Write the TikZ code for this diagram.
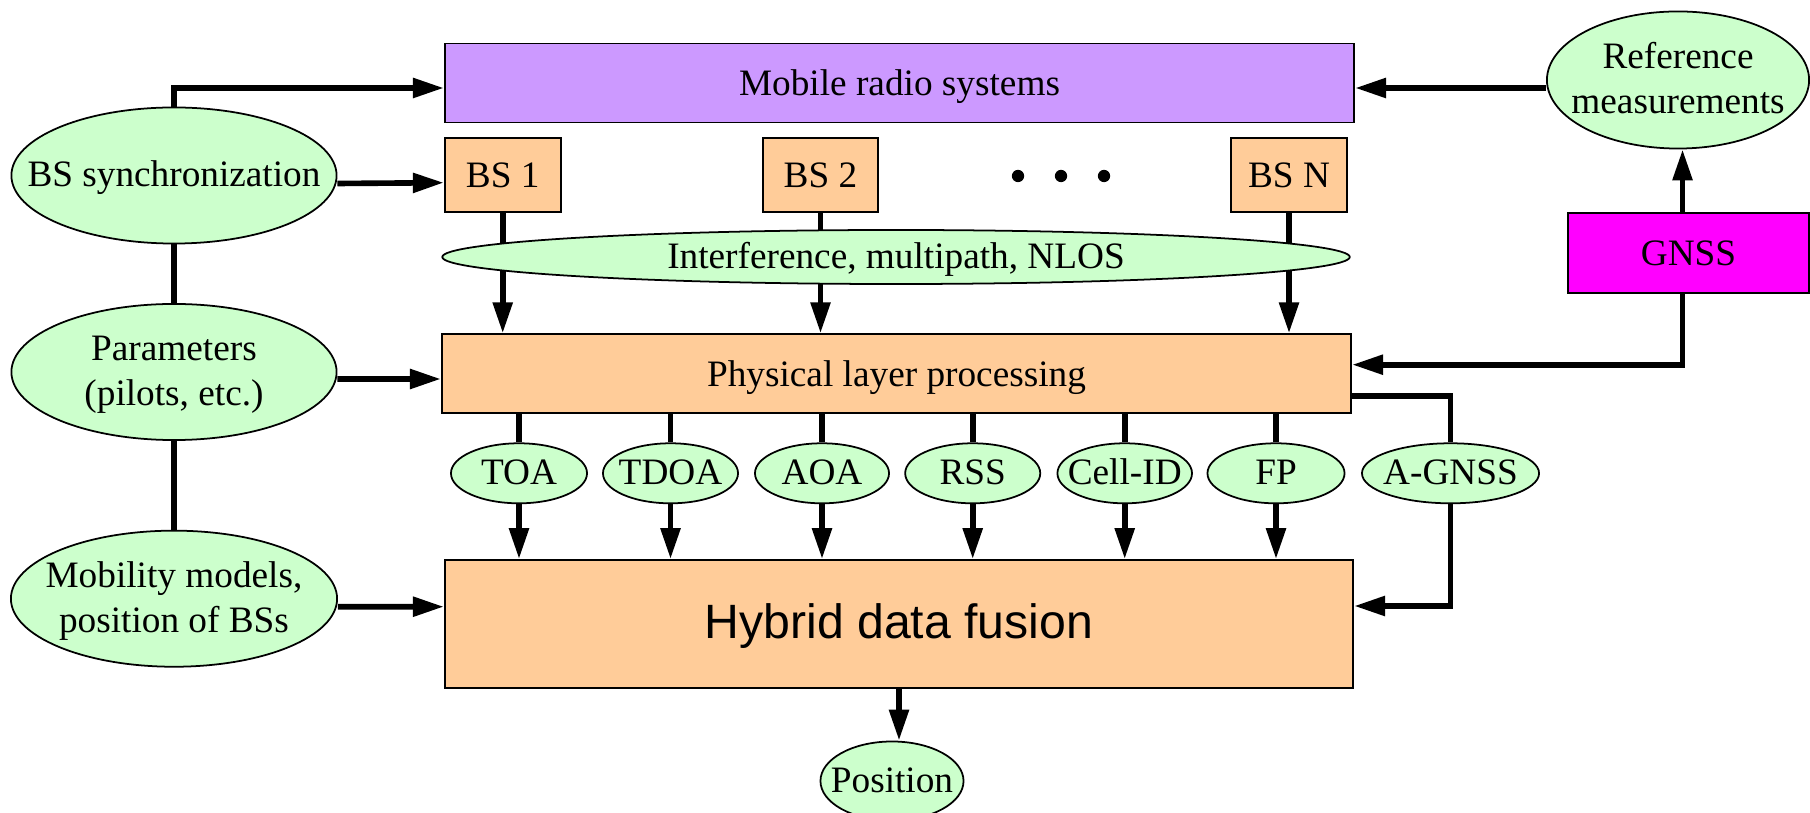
\documentclass[tikz,border=0pt]{standalone}
\usepackage{fontspec}
\setmainfont{Liberation Serif}
\setsansfont{Liberation Sans}
\usepackage{xcolor}
\usepackage{tikz}
\usetikzlibrary{calc, shapes.geometric, arrows.meta}

\definecolor{lgreen}{HTML}{CCFFCC}
\definecolor{lorange}{HTML}{FFCC99}
\definecolor{lpurple}{HTML}{CC99FF}
\definecolor{lmagenta}{HTML}{FF00FF}

% text of an oval, of no size of its own
\newcommand{\ovaltext}[1]{\hbox to 0pt{\hss\lower1.3pt\vbox to 0pt{\vss\hbox{\begin{tabular}{@{}c@{}}#1\end{tabular}}\vss}\hss}}

\begin{document}
\begin{tikzpicture}[x=0.01cm, y=-0.01cm,
    font=\fontsize{10.6}{12.6}\selectfont,
    box/.style={rectangle, draw, line width=0.5pt, fill=lorange, inner sep=0pt, text height=8pt, text depth=0.9pt},
    oval/.style={ellipse, draw, line width=0.5pt, fill=lgreen, inner sep=0pt},
    link/.style={line width=1.6pt},
    flow/.style={line width=1.6pt, -{Triangle[length=8.8pt, width=5.4pt]}}]
    \useasboundingbox (0,0) rectangle (1810,813);

    % 1. Các khối chính
    \node[box, fill=lpurple, minimum width=9.09cm, minimum height=0.79cm] (mobile) at (899.5,83) {Mobile radio systems};
    \node[box, minimum width=1.16cm, minimum height=0.74cm] (bs1) at (502.7,174.7) {BS 1};
    \node[box, minimum width=1.15cm, minimum height=0.74cm] (bs2) at (820.5,174.7) {BS 2};
    \node[box, minimum width=1.16cm, minimum height=0.74cm] (bsn) at (1289,174.7) {BS N};
    \foreach \x in {1018,1061,1104}
        \fill (\x,176) circle (1.75pt);
    \node[box, minimum width=9.09cm, minimum height=0.79cm] (phys) at (896.5,373.7) {Physical layer processing};
    \node[box, minimum width=9.08cm, minimum height=1.28cm, text height=9.8pt, text depth=1.8pt, font=\sffamily\fontsize{13.7}{16}\selectfont] (hybrid) at (899,624) {Hybrid data fusion};
    \node[box, fill=lmagenta, minimum width=2.41cm, minimum height=0.80cm] (gnss) at (1688.5,253.3) {GNSS};

    % 2. Các khối bên trái và bên phải
    \node[oval, minimum width=3.25cm, minimum height=1.36cm] (sync) at (174,175.5) {\ovaltext{BS synchronization}};
    \node[oval, minimum width=3.25cm, minimum height=1.36cm] (params) at (174,372) {\ovaltext{Parameters\\(pilots, etc.)}};
    \node[oval, minimum width=3.26cm, minimum height=1.36cm] (mobility) at (174,598.7) {\ovaltext{Mobility models,\\position of BSs}};
    \node[oval, minimum width=2.62cm, minimum height=1.37cm] (ref) at (1678,80) {\ovaltext{Reference\\measurements}};

    % 3. Các phương pháp đo
    \foreach \name/\lbl/\cx/\w in {toa/TOA/519/1.36, tdoa/TDOA/670.5/1.35, aoa/AOA/822/1.34, rss/RSS/972.7/1.35, cell/Cell-ID/1124.7/1.345, fp/FP/1276/1.37, agnss/A-GNSS/1450.5/1.77}
        \node[oval, minimum width=\w cm, minimum height=0.60cm] (\name) at (\cx,473.3) {\ovaltext{\lbl}};
    \node[oval, minimum width=1.43cm, minimum height=0.79cm] (pos) at (892,781) {\ovaltext{Position}};

    % 4. Các mũi tên
    \foreach \b in {bs1,bs2,bsn}
        \draw[flow] (\b.south) -- (\b.south |- phys.north);
    \node[oval, minimum width=9.07cm, minimum height=0.54cm] (interf) at (896,257) {\ovaltext{Interference, multipath, NLOS}};

    \draw[flow] (sync.north) |- ($(mobile.west)+(0,5)$);
    \draw[flow] ($(sync.east)+(0,8)$) -- ($(bs1.west)+(0,8)$);
    \draw[link] (sync) -- (params);
    \draw[link] (params) -- (mobility);
    \draw[flow] ($(params.east)+(0,7)$) -- ($(phys.west)+(0,5.3)$);
    \draw[flow] ($(mobility.east)+(0,8)$) -- ($(hybrid.west)+(0,-17.3)$);

    \draw[flow] ($(ref.west)+(0,8)$) -- ($(mobile.east)+(0,5)$);
    \draw[flow] ($(gnss.north)+(-6,0)$) -- ($(gnss.north |- ref.south)+(-6,0)$);
    \draw[flow] ($(gnss.south)+(-6,0)$) |- ($(phys.east)+(0,-9)$);
    \draw[link] ($(phys.east)+(0,22)$) -| (agnss.north);
    \draw[flow] (agnss.south) |- ($(hybrid.east)+(0,-18)$);

    \foreach \m in {toa,tdoa,aoa,rss,cell,fp} {
        \draw[link] (\m.north |- phys.south) -- (\m.north);
        \draw[flow] (\m.south) -- (\m.south |- hybrid.north);
    }
    \draw[flow] (hybrid.south) -- (hybrid.south |- pos.north);
\end{tikzpicture}
\end{document}
